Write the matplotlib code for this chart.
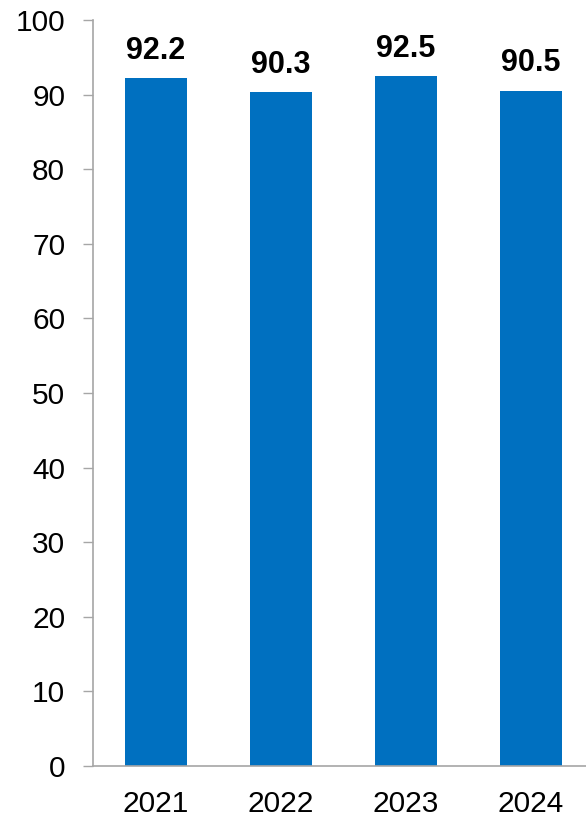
import matplotlib
matplotlib.use("Agg")
import matplotlib.pyplot as plt

years = ["2021", "2022", "2023", "2024"]
values = [92.2, 90.3, 92.5, 90.5]
yticks = [0, 10, 20, 30, 40, 50, 60, 70, 80, 90, 100]

plt.rcParams['font.family'] = ['Liberation Sans', 'DejaVu Sans']

W, H = 586, 821
fig = plt.figure(figsize=(W/100, H/100), dpi=100)
left, bottom_px, top_px = 93.3, 766.0, 20.0
ax = fig.add_axes([left/W, (H-bottom_px)/H, (W-left)/W, (bottom_px-top_px)/H])

x = list(range(len(years)))
ax.bar(x, values, width=0.5, color="#0070C0", zorder=2)
for xi, v in zip(x, values):
    ax.text(xi, v + 2.6, f"{v:.1f}", ha="center", va="baseline",
            fontsize=22, fontweight="bold", color="black")

unit = 125.0
ax.set_xlim(-0.5, -0.5 + (W - left) / unit)
ax.set_ylim(0, 100)
ax.set_yticks(yticks)
ax.set_xticks(x)
ax.set_xticklabels(years)
ax.tick_params(axis="y", labelsize=21.5, length=7.2, width=1, color="#A6A6A6", pad=13)
ax.tick_params(axis="x", labelsize=21.5, length=0, pad=17)
for s in ["top", "right"]:
    ax.spines[s].set_visible(False)
for s in ["left", "bottom"]:
    ax.spines[s].set_color("#A6A6A6")
    ax.spines[s].set_linewidth(1.2)

fig.savefig("out.png", dpi=100)
